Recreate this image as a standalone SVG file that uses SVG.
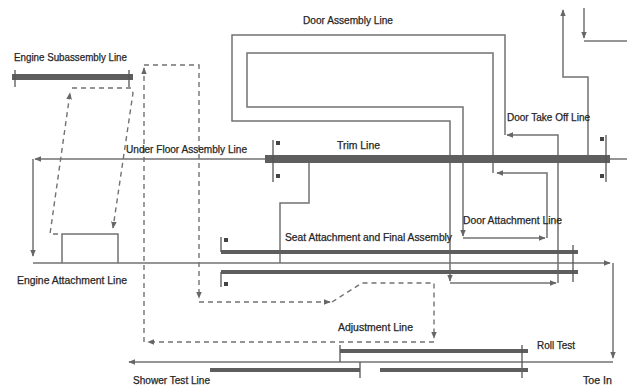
<svg xmlns="http://www.w3.org/2000/svg" width="627" height="389" viewBox="0 0 627 389">
<style>
.lbl{font-family:"Liberation Sans",Arial,sans-serif;font-size:10px;fill:#1e1e1e;stroke:#2a2a2a;stroke-width:0.25;}
.ln{fill:none;stroke:#727272;stroke-width:1.5;}
.ds{fill:none;stroke:#727272;stroke-width:1.4;stroke-dasharray:5 4;}
.bar{stroke:#5e5e5e;stroke-linecap:butt;}
.tk{stroke:#555;stroke-width:1.3;}
.sq{fill:#444;}
</style>
<defs>
<marker id="ah" viewBox="0 0 10 10" refX="9" refY="5" markerWidth="7" markerHeight="7" markerUnits="userSpaceOnUse" orient="auto">
<path d="M0,1 L10,5 L0,9 z" fill="#666"/>
</marker>
</defs>
<rect width="627" height="389" fill="#fff"/>

<g id="connectors">
<path class="ln" d="M627,159 H35" marker-end="url(#ah)"/>
<path class="ln" d="M33,159 V256" marker-end="url(#ah)"/>
<path class="ln" d="M33,263 H610" marker-end="url(#ah)"/>
<path class="ln" d="M613,263 V358" marker-end="url(#ah)"/>
<path class="ln" d="M613,362 H129" marker-end="url(#ah)"/>
<path class="ln" d="M62,263 V234 H118 V263"/>
<path class="ln" d="M309,159 V203 H280 V263"/>
<path class="ln" d="M505,135 V35 H232 V121 H450 V281" marker-end="url(#ah)"/>
<path class="ln" d="M450,283 H556" marker-end="url(#ah)"/>
<path class="ln" d="M558,283 V135 H507" marker-end="url(#ah)"/>
<path class="ln" d="M493,173 V53 H247 V107 H463 V236" marker-end="url(#ah)"/>
<path class="ln" d="M463,238 H545" marker-end="url(#ah)"/>
<path class="ln" d="M547,238 V173 H497" marker-end="url(#ah)"/>
<path class="ln" d="M588,159 V77 H563 V10" marker-end="url(#ah)"/>
<path class="ln" d="M584,8 V38" marker-end="url(#ah)"/>
<path class="ln" d="M584,41 H627"/>
<path class="ds" d="M58,234 H50 L70,93" marker-end="url(#ah)"/>
<path class="ds" d="M72,88 H131 L133,93 L113,228" marker-end="url(#ah)"/>
<path class="ds" d="M144,342 V68" marker-end="url(#ah)"/>
<path class="ds" d="M144,65 H199 V298" marker-end="url(#ah)"/>
<path class="ds" d="M199,302 H330" marker-end="url(#ah)"/>
<path class="ds" d="M332,302 L362,283 H434 V338" marker-end="url(#ah)"/>
<path class="ds" d="M434,342 H148" marker-end="url(#ah)"/>
</g>

<g id="engine-subassembly">
<line class="bar" x1="12" y1="77" x2="133" y2="77" stroke-width="6"/>
<line class="tk" x1="15" y1="70" x2="15" y2="87"/>
<line class="tk" x1="129" y1="70" x2="129" y2="87"/>
<text class="lbl" x="14" y="61" textLength="113" lengthAdjust="spacingAndGlyphs">Engine Subassembly Line</text>
</g>

<g id="door-assembly">
<text class="lbl" x="303" y="24" textLength="90" lengthAdjust="spacingAndGlyphs">Door Assembly Line</text>
</g>

<g id="door-take-off">
<text class="lbl" x="507" y="121" textLength="83" lengthAdjust="spacingAndGlyphs">Door Take Off Line</text>
</g>

<g id="under-floor">
<text class="lbl" x="126" y="153" textLength="121" lengthAdjust="spacingAndGlyphs">Under Floor Assembly Line</text>
</g>

<g id="trim-line">
<line class="bar" x1="265" y1="159" x2="610" y2="159" stroke-width="8"/>
<line class="tk" x1="273" y1="140" x2="273" y2="182"/>
<rect class="sq" x="276" y="141" width="4" height="4"/>
<rect class="sq" x="276" y="174" width="4" height="4"/>
<line class="tk" x1="606" y1="135" x2="606" y2="182"/>
<rect class="sq" x="600" y="137" width="4" height="4"/>
<rect class="sq" x="600" y="174" width="4" height="4"/>
<text class="lbl" x="337" y="149" textLength="43" lengthAdjust="spacingAndGlyphs">Trim Line</text>
</g>

<g id="door-attachment">
<text class="lbl" x="463" y="224" textLength="99" lengthAdjust="spacingAndGlyphs">Door Attachment Line</text>
</g>

<g id="seat-attachment">
<line class="bar" x1="221" y1="252" x2="578" y2="252" stroke-width="4"/>
<line class="bar" x1="221" y1="272" x2="578" y2="272" stroke-width="4"/>
<line class="tk" x1="221" y1="237" x2="221" y2="252"/>
<rect class="sq" x="224" y="238" width="4" height="4"/>
<line class="tk" x1="221" y1="272" x2="221" y2="287"/>
<rect class="sq" x="224" y="282" width="4" height="4"/>
<line class="tk" x1="573" y1="245" x2="573" y2="282"/>
<text class="lbl" x="285" y="241" textLength="167" lengthAdjust="spacingAndGlyphs">Seat Attachment and Final Assembly</text>
</g>

<g id="engine-attachment">
<text class="lbl" x="17" y="284" textLength="110" lengthAdjust="spacingAndGlyphs">Engine Attachment Line</text>
</g>

<g id="adjustment">
<text class="lbl" x="338" y="331" textLength="75" lengthAdjust="spacingAndGlyphs">Adjustment Line</text>
</g>

<g id="roll-test">
<line class="bar" x1="340" y1="351" x2="528" y2="351" stroke-width="4"/>
<line class="tk" x1="340" y1="345" x2="340" y2="362"/>
<line class="tk" x1="522" y1="345" x2="522" y2="378"/>
<text class="lbl" x="537" y="349" textLength="38" lengthAdjust="spacingAndGlyphs">Roll Test</text>
</g>

<g id="shower-test">
<line class="bar" x1="210" y1="370" x2="360" y2="370" stroke-width="4"/>
<line class="tk" x1="360" y1="362" x2="360" y2="378"/>
<text class="lbl" x="133" y="384" textLength="77" lengthAdjust="spacingAndGlyphs">Shower Test Line</text>
</g>

<g id="toe-in">
<line class="bar" x1="380" y1="370" x2="528" y2="370" stroke-width="4"/>
<text class="lbl" x="583" y="384" textLength="29" lengthAdjust="spacingAndGlyphs">Toe In</text>
</g>
</svg>
